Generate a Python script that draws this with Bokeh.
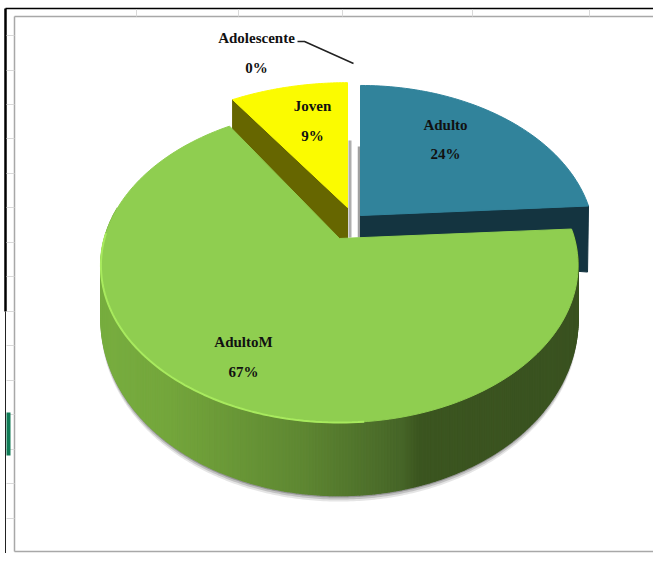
import numpy as np
from bokeh.plotting import figure
from bokeh.models import Range1d
from bokeh.core.properties import value
from bokeh.embed import file_html
from bokeh.resources import INLINE

# --- data ---
categories = ["Adulto", "AdultoM", "Joven", "Adolescente"]
percents = [24, 67, 9, 0]

# --- style / geometry ---
COL_TOP = {"Adulto": "#31839b", "AdultoM": "#8fce50", "Joven": "#fbfb00"}
COL_WALL = {"Adulto": "#143440", "Joven": "#666600"}
CX, CY = 339, 238
A, B, K = 152.4, 235, 0.172
OFFSET = {"Adulto": (21, -23), "AdultoM": (0, 0), "Joven": (8, -31)}
LABEL_POS = {"Adulto": (445, 124, 153), "AdultoM": (243, 341, 371),
             "Joven": (312, 105, 135), "Adolescente": (256, 37, 67)}


def project(theta, dx=0, dy=0):
    u, v = np.sin(theta), np.cos(theta)
    d = 1 + K * v
    return CX + dx + B * u / d, CY + dy - A * v / d, v


def thickness(v):
    return 49 - 24 * v


cum = np.cumsum([0] + percents) / sum(percents) * 2 * np.pi
span = {c: (cum[i], cum[i + 1]) for i, c in enumerate(categories)}

p = figure(width=653, height=553, output_backend="svg", toolbar_location=None,
           x_range=Range1d(0, 653), y_range=Range1d(553, 0), min_border=0)
p.axis.visible = False
p.grid.visible = False
p.outline_line_color = None
p.background_fill_color = "white"

# --- sheet frame ---
GRAY = "#a8a8a8"
LIGHT = "#d9d9d9"
FRAME_B = 551
p.segment([14, 14, 14], [16, FRAME_B, 16], [653, 653, 14], [16, FRAME_B, FRAME_B], line_color=GRAY, line_width=1.5)
p.segment([5], [8], [653], [8], line_color="#000000", line_width=1.5)
p.segment([5], [8], [5], [311], line_color="#000000", line_width=2.5)
p.segment([5], [311], [5], [553], line_color="#222222", line_width=1)
tick_y = [35, 70, 104, 138, 173, 207, 242, 276, 311, 345, 380, 414, 449, 483, 518]
p.segment([6] * len(tick_y), tick_y, [14] * len(tick_y), tick_y, line_color=LIGHT, line_width=1)
tick_x = [136, 238, 342, 472, 589]
p.segment(tick_x, [9] * 5, tick_x, [16] * 5, line_color=LIGHT, line_width=1)
p.quad(left=[6], right=[10], top=[412], bottom=[455], fill_color="#0f7a55", line_color=None)

# --- gap shadows ---
p.segment([349.5], [140], [349.5], [237], line_color="#9a9a9a", line_width=3, line_alpha=0.8)
p.segment([358.5], [146], [358.5], [237], line_color="#888888", line_width=2.5, line_alpha=0.8)

# --- Adulto ---
a0, a1 = span["Adulto"]
t = np.linspace(a0, a1, 60)
dx, dy = OFFSET["Adulto"]
xa, ya, _ = project(t, dx, dy)
ex, ey, _ = project(np.array([a1]), dx, dy)
apex = (CX + dx, CY + dy)
p.patch([apex[0], ex[0] - 4, ex[0] - 5, apex[0]], [apex[1], ey[0], ey[0] + 66, apex[1] + 40],
        fill_color=COL_WALL["Adulto"], line_color=COL_WALL["Adulto"])
p.patch([apex[0]] + list(xa - 4 * t / a1), [apex[1]] + list(ya),
        fill_color=COL_TOP["Adulto"], line_color=COL_TOP["Adulto"])

# --- Joven ---
j0, j1 = span["Joven"]
t = np.linspace(j0, j1, 40)
dx, dy = OFFSET["Joven"]
xj, yj, _ = project(t, dx, dy)
apex = (CX + dx, CY + dy)
xj = apex[0] + (xj - apex[0]) * 1.045
yj = apex[1] + (yj - apex[1]) * 0.96
p.patch([apex[0], xj[0], xj[0], apex[0]], [apex[1], yj[0], yj[0] + 45, apex[1] + 60],
        fill_color=COL_WALL["Joven"], line_color=COL_WALL["Joven"])
p.patch([apex[0]] + list(xj), [apex[1]] + list(yj),
        fill_color=COL_TOP["Joven"], line_color=COL_TOP["Joven"])

# --- AdultoM wall, shadow, top ---
g0, g1 = span["AdultoM"]
tw = np.linspace(g0 + 0.02, np.radians(282), 320)
xt, yt, vt = project(tw)
yb = yt + thickness(vt)
for off, alpha in ((6, 0.14), (4, 0.22), (2, 0.35)):
    p.patch(list(xt) + list(xt[::-1]), list(yt) + list((yb + off)[::-1]),
            fill_color="#444444", fill_alpha=alpha, line_color=None)
stops_x = [100, 170, 300, 400, 418, 600]
stops_r = [0x78, 0x74, 0x5f, 0x47, 0x3c, 0x3a]
stops_g = [0xae, 0xa6, 0x88, 0x66, 0x56, 0x52]
stops_b = [0x40, 0x3c, 0x33, 0x28, 0x20, 0x20]
xs, ys, cols = [], [], []
for i in range(len(tw) - 1):
    xs.append([xt[i], xt[i + 1], xt[i + 1], xt[i]])
    ys.append([yt[i], yt[i + 1], yb[i + 1], yb[i]])
    m = (xt[i] + xt[i + 1]) / 2
    cols.append("#%02x%02x%02x" % (int(np.interp(m, stops_x, stops_r)),
                                   int(np.interp(m, stops_x, stops_g)),
                                   int(np.interp(m, stops_x, stops_b))))
p.patches(xs, ys, fill_color=cols, line_color=cols, line_width=1.5)

t = np.linspace(g0, g1, 160)
xg, yg, _ = project(t)
p.patch([CX] + list(xg), [CY] + list(yg), fill_color=COL_TOP["AdultoM"], line_color=COL_TOP["AdultoM"])
tr = np.linspace(np.radians(175), np.radians(272), 80)
xr, yr, _ = project(tr)
p.line(xr, yr, line_color="#a8ea5e", line_width=2)

# --- labels ---
lx, ly, lt = [], [], []
for c, pc in zip(categories, percents):
    x, y1, y2 = LABEL_POS[c]
    lx += [x, x]
    ly += [y1, y2]
    lt += [c, f"{pc}%"]
p.text(lx, ly, text=lt, text_font=value("Liberation Serif"), text_font_style="bold",
       text_font_size="15px", text_color="#111111", text_align="center", text_baseline="middle")
p.line([297, 304, 353], [41, 41, 63], line_color="#222222", line_width=1.5)

open("out.html", "w").write(file_html(p, INLINE))
